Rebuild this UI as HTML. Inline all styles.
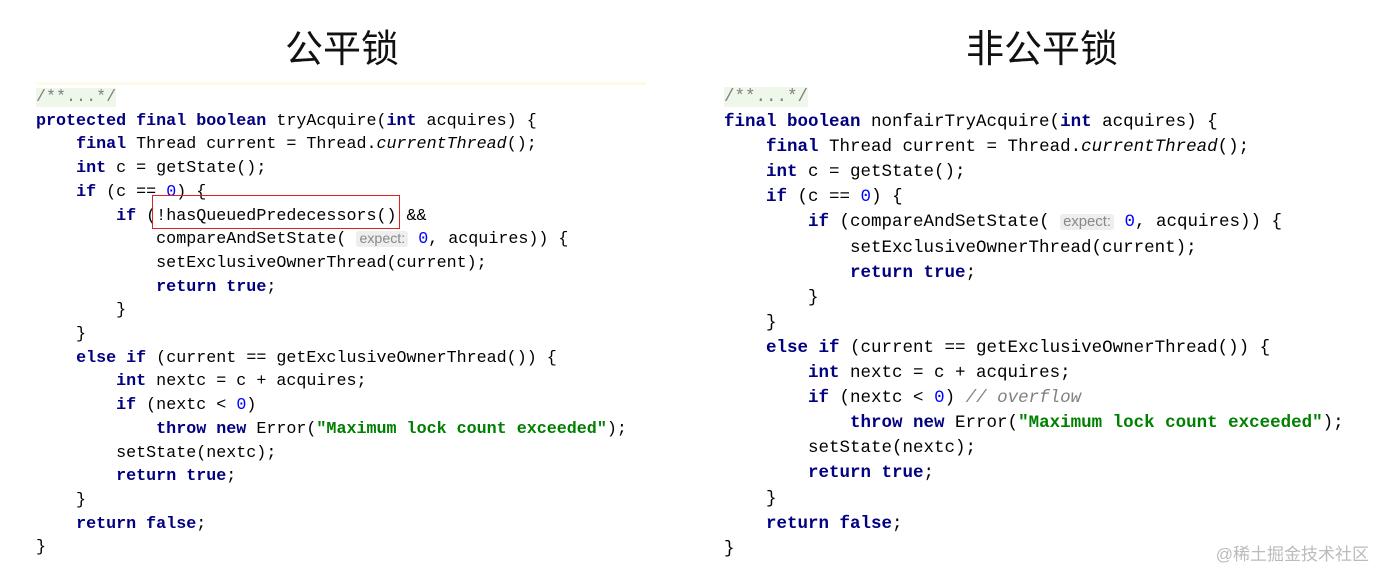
<!DOCTYPE html>
<html><head><meta charset="utf-8"><style>
body{margin:0;width:1387px;height:579px;background:#fff;position:relative;overflow:hidden}
.t{position:absolute;top:18px;font:38px "Liberation Sans","Noto Sans CJK SC",sans-serif;color:#111;width:300px;text-align:center}
pre{position:absolute;margin:0;font-family:"Liberation Mono",monospace;color:#000}
#L{left:36px;top:86px;font-size:16.7px;line-height:23.7px}
#R{left:724px;top:85px;font-size:17.5px;line-height:25.1px}
b{color:#000080}
.n{color:#0000ff}
.s{color:#008000;font-weight:bold}
.c{color:#808080;font-style:italic}
.cm{color:#808080;background:#eef7ea}
.h{font-family:"Liberation Sans",sans-serif;color:#888;background:#eeeeee;font-size:0.85em;padding:0 3px;border-radius:3px}
i{font-style:italic}
.box{position:absolute;left:152px;top:195px;width:248px;height:34px;border:1.5px solid #d22;box-sizing:border-box}
.wm{position:absolute;right:18px;top:540px;font:17px "Liberation Sans","Noto Sans CJK SC",sans-serif;color:#bbb}
.hl{position:absolute;left:36px;top:82px;width:610px;height:3px;background:#fdfbe8}
</style></head><body>
<div class="t" style="left:192px">公平锁</div>
<div class="t" style="left:892px">非公平锁</div>
<div class="hl"></div>
<pre id="L"><span class="cm">/**...*/</span>
<b>protected final boolean</b> tryAcquire(<b>int</b> acquires) {
    <b>final</b> Thread current = Thread.<i>currentThread</i>();
    <b>int</b> c = getState();
    <b>if</b> (c == <span class="n">0</span>) {
        <b>if</b> (!hasQueuedPredecessors() &amp;&amp;
            compareAndSetState( <span class="h">expect:</span> <span class="n">0</span>, acquires)) {
            setExclusiveOwnerThread(current);
            <b>return true</b>;
        }
    }
    <b>else if</b> (current == getExclusiveOwnerThread()) {
        <b>int</b> nextc = c + acquires;
        <b>if</b> (nextc &lt; <span class="n">0</span>)
            <b>throw new</b> Error(<span class="s">"Maximum lock count exceeded"</span>);
        setState(nextc);
        <b>return true</b>;
    }
    <b>return false</b>;
}</pre>
<div class="box"></div>
<pre id="R"><span class="cm">/**...*/</span>
<b>final boolean</b> nonfairTryAcquire(<b>int</b> acquires) {
    <b>final</b> Thread current = Thread.<i>currentThread</i>();
    <b>int</b> c = getState();
    <b>if</b> (c == <span class="n">0</span>) {
        <b>if</b> (compareAndSetState( <span class="h">expect:</span> <span class="n">0</span>, acquires)) {
            setExclusiveOwnerThread(current);
            <b>return true</b>;
        }
    }
    <b>else if</b> (current == getExclusiveOwnerThread()) {
        <b>int</b> nextc = c + acquires;
        <b>if</b> (nextc &lt; <span class="n">0</span>) <span class="c">// overflow</span>
            <b>throw new</b> Error(<span class="s">"Maximum lock count exceeded"</span>);
        setState(nextc);
        <b>return true</b>;
    }
    <b>return false</b>;
}</pre>
<div class="wm">@稀土掘金技术社区</div>
</body></html>
